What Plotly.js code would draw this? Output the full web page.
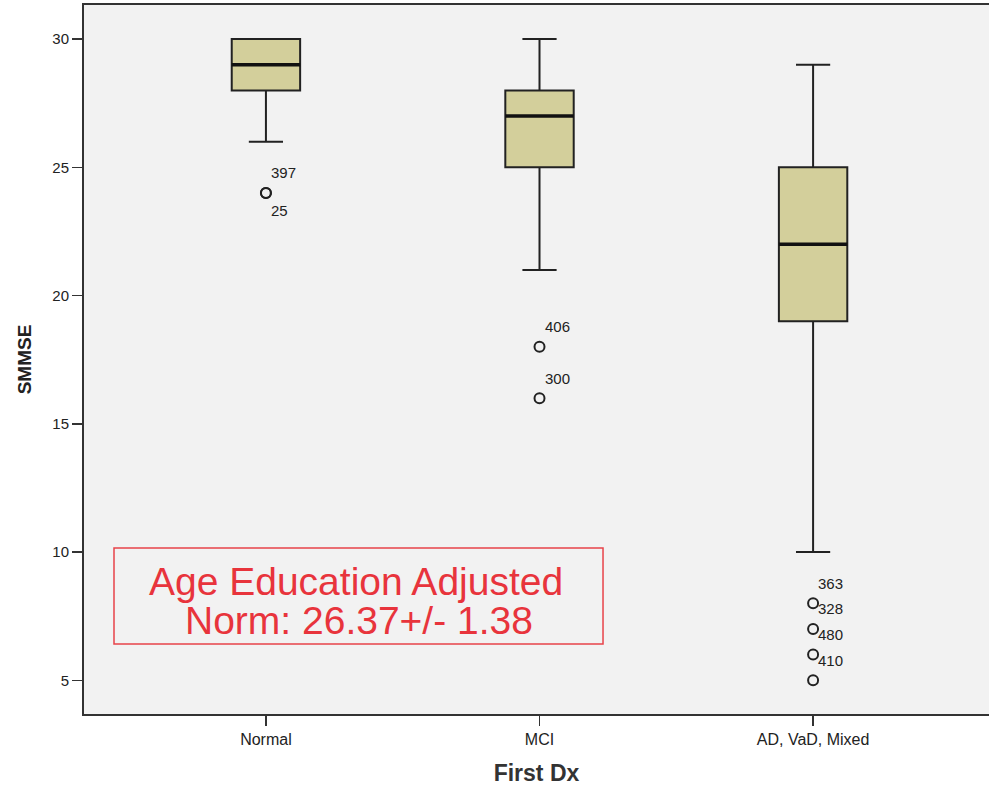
<!DOCTYPE html>
<html>
<head>
<meta charset="utf-8">
<script src="https://cdn.plot.ly/plotly-3.0.1.min.js"></script>
<style>html,body{margin:0;padding:0;background:#fff;}#chart{width:989px;height:790px;}</style>
</head>
<body>
<div id="chart"></div>
<script>
// Data
var categories = ['Normal', 'MCI', 'AD, VaD, Mixed'];
var q1 = [28, 25, 19];
var medians = [29, 27, 22];
var q3 = [30, 28, 25];
var lowerFence = [26, 21, 10];
var upperFence = [30, 30, 29];
// Outliers: category index, value, case label
var outlierCat = [0, 0, 1, 1, 2, 2, 2, 2];
var outlierVal = [24, 24, 18, 16, 8, 7, 6, 5];
var outlierLabel = ['397', '25', '406', '300', '363', '328', '480', '410'];
var noteLines = ['Age Education Adjusted', 'Norm: 26.37+/- 1.38'];

var idx = categories.map(function (c, i) { return i; });
var boxW = 0.25;
var lineCol = '#222222';
var FONT = 'Liberation Sans, Arial, sans-serif';

var traces = [];
traces.push({
  type: 'box',
  x: idx,
  q1: q1, median: medians, q3: q3,
  lowerfence: lowerFence, upperfence: upperFence,
  width: boxW,
  whiskerwidth: 0.5,
  fillcolor: '#d3cf9b',
  line: { color: lineCol, width: 2 },
  boxpoints: false,
  hoverinfo: 'y',
  showlegend: false
});
// thick median lines
var mx = [], my = [];
idx.forEach(function (i) {
  mx.push(i - boxW / 2, i + boxW / 2, null);
  my.push(medians[i], medians[i], null);
});
traces.push({
  type: 'scatter', mode: 'lines', x: mx, y: my,
  line: { color: '#111', width: 3.5 }, hoverinfo: 'skip', showlegend: false
});
// outliers
traces.push({
  type: 'scatter', mode: 'markers',
  x: outlierCat, y: outlierVal,
  marker: { symbol: 'circle-open', size: 10, color: lineCol, line: { width: 2, color: lineCol } },
  hoverinfo: 'y', showlegend: false
});

var annotations = [];
var seen = {};
outlierCat.forEach(function (c, k) {
  var key = c + '_' + outlierVal[k];
  var dup = seen[key];
  seen[key] = true;
  annotations.push({
    x: c, y: outlierVal[k], xref: 'x', yref: 'y',
    text: outlierLabel[k], showarrow: false,
    xanchor: 'left', yanchor: 'middle',
    xshift: 3, yshift: dup ? -18 : 20,
    font: { family: FONT, size: 15, color: '#222' }
  });
});
var noteX = [0.3, 0.3039];
var noteY = [0.1862, 0.1312];
noteLines.forEach(function (t, k) {
  annotations.push({
    xref: 'paper', yref: 'paper', x: noteX[k], y: noteY[k],
    xanchor: 'center', yanchor: 'middle',
    text: t, showarrow: false,
    font: { family: FONT, size: 39, color: '#e8343c' }
  });
});

var layout = {
  width: 989, height: 790,
  margin: { l: 84, r: 0, t: 5, b: 76 },
  paper_bgcolor: '#ffffff',
  plot_bgcolor: '#f2f2f2',
  showlegend: false,
  font: { family: FONT, color: '#222' },
  xaxis: {
    range: [-0.665, 2.643],
    tickvals: idx, ticktext: categories,
    ticks: 'outside', ticklen: 10, tickwidth: 1.5, tickcolor: '#333',
    showgrid: false, zeroline: false,
    showline: true, linecolor: '#333', linewidth: 2, mirror: true,
    tickfont: { size: 16, color: '#222' },
    title: { text: '<b>First Dx</b>', font: { size: 23, color: '#333' }, standoff: 18 }
  },
  yaxis: {
    range: [3.684, 31.33],
    tickvals: [5, 10, 15, 20, 25, 30],
    ticks: 'outside', ticklen: 10, tickwidth: 1.5, tickcolor: '#333',
    showgrid: false, zeroline: false,
    showline: true, linecolor: '#333', linewidth: 2,
    tickfont: { size: 15, color: '#222' },
    title: { text: '<b>SMMSE</b>', font: { size: 19, color: '#222' }, standoff: 16 }
  },
  shapes: [{
    type: 'rect', xref: 'paper', yref: 'paper',
    x0: 0.03315, x1: 0.5735, y0: 0.0987, y1: 0.2341,
    line: { color: '#e8434a', width: 1.5 }, fillcolor: 'rgba(0,0,0,0)'
  }],
  annotations: annotations
};

Plotly.newPlot('chart', traces, layout, { displayModeBar: false, staticPlot: true });
</script>
</body>
</html>
